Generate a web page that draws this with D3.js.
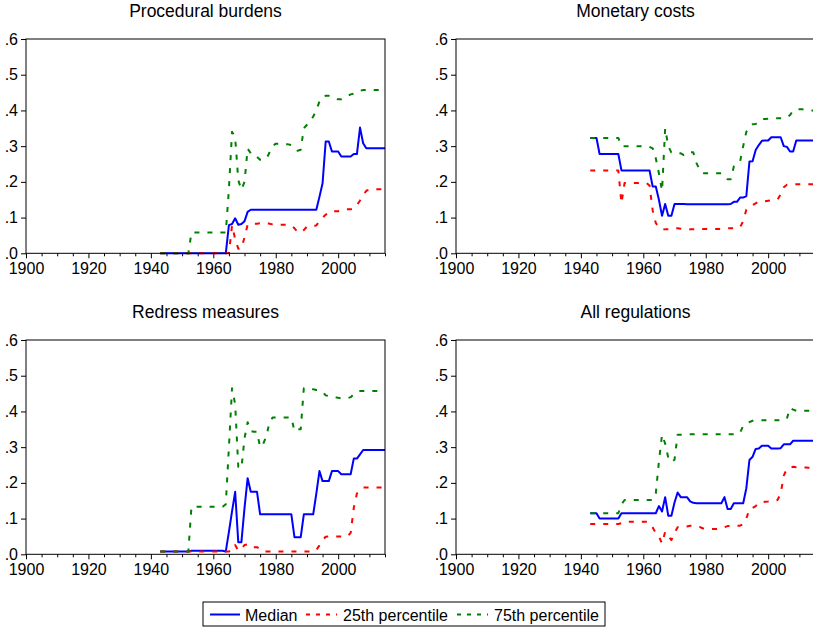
<!DOCTYPE html>
<html><head><meta charset="utf-8">
<script src="https://cdn.jsdelivr.net/npm/d3@7"></script>
<style>body{margin:0;background:#fff;} svg{display:block;} text{font-family:"Liberation Sans",Arial,sans-serif;fill:#000;}</style>
</head><body><svg id="c" width="813" height="629"></svg>
<script>
const years = d3.range(1943, 2016);
const titles = ["Procedural burdens", "Monetary costs", "Redress measures", "All regulations"];
const seriesNames = ["Median", "25th percentile", "75th percentile"];
const yTicks = [0, 0.1, 0.2, 0.3, 0.4, 0.5, 0.6];
const xMajor = [1900, 1920, 1940, 1960, 1980, 2000];

// Procedural burdens (1943..2015)
const pbMed = [0,0,0,0,0,0,0,
 0,0,0,0,0,0,0,0,0,0,
 0,0,0,0,0,0.079,0.082,0.098,0.08,0.082,
 0.09,0.116,0.122,0.122,0.122,0.122,0.122,0.122,0.122,0.122,
 0.122,0.122,0.122,0.122,0.122,0.122,0.122,0.122,0.122,0.122,
 0.122,0.122,0.122,0.122,0.158,0.196,0.313,0.313,0.285,0.285,
 0.285,0.271,0.271,0.271,0.271,0.278,0.278,0.352,0.308,0.294,
 0.294,0.294,0.294,0.294,0.294,0.294];
const pbP25 = [0,0,0,0,0,0,0,
 0,0,0,0,0,0,0,0,0,0,
 0,0,0,0,0,0,0.078,0.04,0.013,0.013,
 0.045,0.08,0.082,0.083,0.083,0.084,0.085,0.085,0.083,0.081,
 0.08,0.08,0.08,0.08,0.079,0.078,0.07,0.06,0.058,0.065,
 0.075,0.077,0.077,0.078,0.09,0.1,0.108,0.116,0.118,0.118,
 0.118,0.12,0.122,0.123,0.123,0.125,0.135,0.148,0.163,0.175,
 0.178,0.179,0.179,0.179,0.179,0.179];
const pbP75 = [0,0,0,0,0,0,0,
 0,0,0,0.058,0.058,0.058,0.058,0.058,0.058,0.058,
 0.058,0.058,0.058,0.058,0.058,0.18,0.34,0.325,0.205,0.178,
 0.2,0.293,0.28,0.28,0.27,0.262,0.262,0.265,0.282,0.3,
 0.307,0.307,0.306,0.305,0.305,0.303,0.298,0.287,0.29,0.35,
 0.36,0.37,0.383,0.4,0.425,0.438,0.441,0.441,0.44,0.435,
 0.431,0.431,0.435,0.44,0.445,0.447,0.45,0.455,0.457,0.457,
 0.457,0.457,0.457,0.457,0.457,0.457];

// Monetary costs
const mcMed = [0.323,0.323,0.323,0.278,0.278,0.278,0.278,
 0.278,0.278,0.278,0.232,0.232,0.232,0.232,0.232,0.232,0.232,
 0.232,0.232,0.232,0.187,0.187,0.15,0.105,0.138,0.105,0.105,
 0.138,0.138,0.138,0.138,0.137,0.137,0.137,0.137,0.137,0.137,
 0.137,0.137,0.137,0.137,0.137,0.137,0.137,0.137,0.138,0.144,
 0.144,0.156,0.156,0.16,0.257,0.258,0.289,0.303,0.315,0.316,
 0.316,0.325,0.325,0.325,0.325,0.3,0.298,0.285,0.285,0.316,
 0.316,0.316,0.316,0.316,0.316,0.316];
const mcP25 = [0.232,0.232,0.232,0.232,0.232,0.232,0.232,
 0.232,0.232,0.232,0.14,0.197,0.197,0.197,0.197,0.197,0.197,
 0.197,0.197,0.19,0.12,0.085,0.072,0.068,0.067,0.067,0.068,
 0.07,0.07,0.069,0.068,0.068,0.067,0.067,0.067,0.068,0.068,
 0.068,0.068,0.068,0.068,0.068,0.068,0.069,0.07,0.07,0.07,
 0.071,0.073,0.09,0.122,0.13,0.135,0.14,0.145,0.146,0.146,
 0.147,0.148,0.149,0.15,0.165,0.185,0.192,0.193,0.193,0.193,
 0.193,0.193,0.193,0.193,0.193,0.193];
const mcP75 = [0.323,0.323,0.323,0.323,0.323,0.323,0.323,
 0.323,0.323,0.323,0.3,0.3,0.3,0.3,0.3,0.3,0.3,
 0.3,0.3,0.298,0.294,0.266,0.224,0.175,0.35,0.3,0.282,
 0.282,0.281,0.28,0.275,0.282,0.283,0.283,0.253,0.235,0.224,
 0.224,0.224,0.224,0.224,0.224,0.224,0.215,0.207,0.207,0.243,
 0.25,0.257,0.3,0.34,0.355,0.361,0.362,0.368,0.376,0.376,
 0.377,0.378,0.378,0.378,0.378,0.378,0.38,0.387,0.4,0.403,
 0.403,0.403,0.402,0.401,0.4,0.4];

// Redress measures
const rmMed = [0.008,0.008,0.008,0.008,0.008,0.008,0.008,
 0.008,0.008,0.008,0.01,0.01,0.01,0.01,0.01,0.01,0.01,
 0.01,0.01,0.01,0.01,0.008,0.063,0.12,0.175,0.034,0.034,
 0.13,0.213,0.175,0.175,0.175,0.112,0.112,0.112,0.112,0.112,
 0.112,0.112,0.112,0.112,0.112,0.112,0.048,0.048,0.048,0.112,
 0.112,0.112,0.112,0.17,0.233,0.205,0.205,0.205,0.233,0.233,
 0.233,0.224,0.224,0.224,0.224,0.268,0.268,0.28,0.292,0.292,
 0.292,0.292,0.292,0.292,0.292,0.292];
const rmP25 = [0.008,0.008,0.008,0.008,0.008,0.008,0.008,
 0.008,0.008,0.008,0.008,0.008,0.008,0.008,0.008,0.008,0.008,
 0.008,0.008,0.008,0.008,0.008,0.008,0.01,0.026,0.01,0.015,
 0.026,0.028,0.02,0.02,0.02,0.015,0.008,0.008,0.008,0.008,
 0.008,0.008,0.008,0.008,0.008,0.008,0.008,0.008,0.008,0.008,
 0.008,0.008,0.008,0.012,0.025,0.04,0.049,0.05,0.05,0.05,
 0.05,0.05,0.05,0.05,0.06,0.13,0.17,0.178,0.187,0.187,
 0.187,0.187,0.187,0.187,0.187,0.187];
const rmP75 = [0.008,0.008,0.008,0.008,0.008,0.008,0.008,
 0.008,0.008,0.008,0.133,0.133,0.133,0.133,0.133,0.133,0.133,
 0.133,0.133,0.133,0.133,0.14,0.3,0.465,0.42,0.245,0.24,
 0.325,0.37,0.345,0.343,0.343,0.3,0.31,0.33,0.37,0.383,
 0.383,0.383,0.383,0.383,0.383,0.383,0.345,0.35,0.35,0.465,
 0.465,0.465,0.462,0.46,0.46,0.455,0.445,0.443,0.443,0.44,
 0.438,0.437,0.437,0.437,0.44,0.448,0.455,0.457,0.457,0.457,
 0.457,0.457,0.457,0.457,0.457,0.457];

// All regulations
const arMed = [0.115,0.115,0.115,0.1,0.1,0.1,0.1,
 0.1,0.1,0.1,0.115,0.115,0.115,0.115,0.115,0.115,0.115,
 0.115,0.115,0.115,0.115,0.115,0.135,0.12,0.16,0.108,0.108,
 0.145,0.173,0.16,0.16,0.16,0.148,0.144,0.143,0.143,0.143,
 0.143,0.143,0.143,0.143,0.143,0.143,0.16,0.127,0.127,0.143,
 0.143,0.143,0.143,0.185,0.264,0.273,0.295,0.296,0.304,0.304,
 0.304,0.296,0.296,0.296,0.297,0.308,0.308,0.308,0.318,0.318,
 0.318,0.318,0.318,0.318,0.318,0.318];
const arP25 = [0.085,0.085,0.085,0.085,0.085,0.085,0.085,
 0.085,0.085,0.085,0.087,0.091,0.091,0.091,0.091,0.091,0.091,
 0.091,0.091,0.088,0.075,0.06,0.05,0.03,0.063,0.05,0.04,
 0.06,0.076,0.077,0.077,0.078,0.08,0.08,0.079,0.077,0.073,
 0.071,0.071,0.071,0.071,0.071,0.073,0.076,0.079,0.079,0.08,
 0.08,0.08,0.085,0.1,0.127,0.13,0.135,0.145,0.146,0.147,
 0.148,0.15,0.15,0.152,0.17,0.22,0.24,0.243,0.245,0.244,
 0.244,0.244,0.243,0.242,0.241,0.24];
const arP75 = [0.115,0.115,0.115,0.115,0.115,0.115,0.115,
 0.115,0.115,0.115,0.14,0.152,0.152,0.152,0.152,0.152,0.152,
 0.152,0.152,0.152,0.152,0.17,0.26,0.335,0.31,0.27,0.258,
 0.265,0.335,0.335,0.335,0.335,0.336,0.336,0.336,0.336,0.336,
 0.336,0.336,0.336,0.336,0.336,0.336,0.336,0.336,0.336,0.336,
 0.336,0.34,0.36,0.365,0.37,0.374,0.375,0.375,0.375,0.375,
 0.375,0.375,0.375,0.375,0.375,0.375,0.38,0.41,0.405,0.402,
 0.402,0.402,0.402,0.402,0.402,0.402];

const panelData = [
  [pbMed, pbP25, pbP75],
  [mcMed, mcP25, mcP75],
  [rmMed, rmP25, rmP75],
  [arMed, arP25, arP75]
];
const colors = ["#0000ff", "#ff0000", "#008000"];
const dashes = [null, "5,8", "5,8"];

const FONT = '"Liberation Sans", Arial, sans-serif';
const svg = d3.select("#c");
const PW = 359, PH = 214.3;
const origins = [[26, 39], [456, 39], [26, 340], [456, 340]];
const x = d3.scaleLinear().domain([1900, 2015]).range([0, PW]);
const y = d3.scaleLinear().domain([0, 0.6]).range([PH, 0]);
const fmtY = d => d3.format(".1f")(d).replace(/^0/, "");

panelData.forEach((series, i) => {
  const g = svg.append("g").attr("transform", `translate(${origins[i][0]},${origins[i][1]})`);
  g.append("text").attr("x", PW / 2).attr("y", -22).attr("text-anchor", "middle")
    .style("font-size", "17.5px").text(titles[i]);

  const ya = d3.axisLeft(y).tickValues(yTicks).tickSize(5).tickPadding(3).tickFormat(fmtY);
  const yg = g.append("g").call(ya).attr("font-size", 16).attr("font-family", FONT);
  yg.select(".domain").remove();
  yg.selectAll("line").attr("stroke", "#000");

  const xa = d3.axisBottom(x).tickValues(d3.range(1900, 2016, 5)).tickSize(3).tickPadding(6)
    .tickFormat(d => xMajor.includes(d) ? String(d) : "");
  const xg = g.append("g").attr("transform", `translate(0,${PH})`).call(xa)
    .attr("font-size", 16).attr("font-family", FONT);
  xg.select(".domain").remove();
  xg.selectAll(".tick").filter(d => d % 20 === 0).select("line").attr("y2", 5);
  xg.selectAll("line").attr("stroke", "#000");

  const line = d3.line().x((d, j) => x(years[j])).y(d => y(d));
  series.forEach((vals, k) => {
    const path = g.append("path").datum(vals).attr("d", line)
      .attr("fill", "none").attr("stroke", colors[k]).attr("stroke-width", 2)
      .attr("stroke-linejoin", "round");
    if (dashes[k]) path.attr("stroke-dasharray", dashes[k]);
  });

  g.append("rect").attr("x", 0).attr("y", 0).attr("width", PW).attr("height", PH)
    .attr("fill", "none").attr("stroke", "#000").attr("stroke-width", 1);
});

// legend
const lg = svg.append("g");
lg.append("rect").attr("x", 203).attr("y", 602).attr("width", 402).attr("height", 24)
  .attr("fill", "#fff").attr("stroke", "#000").attr("stroke-width", 1);
const legendItems = [
  { lx: 210, lw: 30, tx: 245 },
  { lx: 306, lw: 31, tx: 343 },
  { lx: 457, lw: 31, tx: 494 }
];
legendItems.forEach((it, k) => {
  const l = lg.append("line").attr("x1", it.lx).attr("x2", it.lx + it.lw)
    .attr("y1", 614.5).attr("y2", 614.5).attr("stroke", colors[k]).attr("stroke-width", 2);
  if (dashes[k]) l.attr("stroke-dasharray", "4,6");
  lg.append("text").attr("x", it.tx).attr("y", 620.5).style("font-size", "16px").text(seriesNames[k]);
});
</script></body></html>
